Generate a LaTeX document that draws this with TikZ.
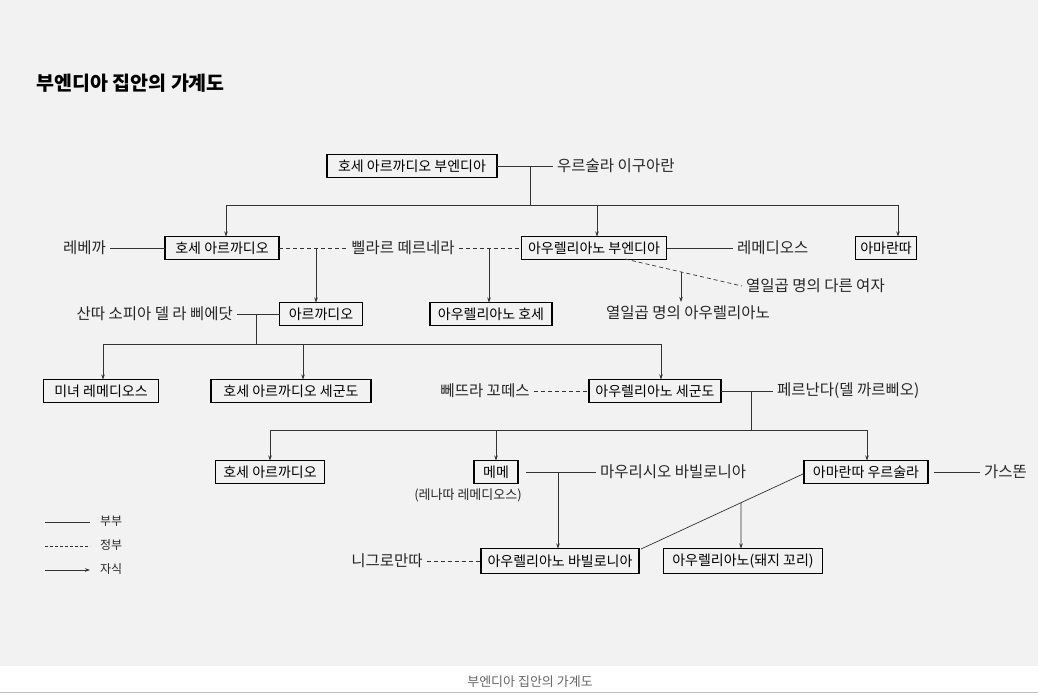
\documentclass[tikz,border=0pt]{standalone}
\usepackage{fontspec}
\setmainfont{Noto Sans CJK KR}
\usetikzlibrary{arrows.meta,calc}
\begin{document}
\begin{tikzpicture}[x=1pt,y=-1pt,
  pbox/.style={draw,line width=1.1pt,inner sep=0pt,outer sep=0pt,minimum height=23pt,font=\fontsize{14}{15}\selectfont},
  lbl/.style={inner sep=0pt,outer sep=4pt,font=\fontsize{15.5}{16}\selectfont,text=black!85},
  ln/.style={line width=0.7pt,black!80},
  dsh/.style={line width=0.7pt,black!80,dash pattern=on 4pt off 3pt},
  arr/.style={line width=0.7pt,black!80,-{Stealth[length=5pt,width=3.5pt]}}]
\useasboundingbox (0,0) rectangle (1038,698);
\fill[black!5] (0,0) rectangle (1038,666);
\fill[white] (0,666) rectangle (1038,698);
\draw[black!25,line width=1pt] (0,692) -- (1038,692);
\node[anchor=west,font=\fontsize{19.5}{20}\selectfont\bfseries] (title) at (33,83) {부엔디아 집안의 가계도};
\node[text=black!60,font=\fontsize{13}{14}\selectfont] (cap) at (530,682) {부엔디아 집안의 가계도};
% generation 1
\node[pbox,minimum width=170pt] (jab) at (412,166) {호세 아르까디오 부엔디아};
\node[lbl,anchor=west] (urs) at (553,166) {우르술라 이구아란};
\draw[ln] (jab.east) -- (urs.west);
\coordinate (j1) at (530,166);
\coordinate (h1) at (530,205);
\draw[ln] (j1) -- (h1);
% generation 2
\node[pbox,minimum width=114pt] (ja) at (222,248) {호세 아르까디오};
\node[pbox,minimum width=145pt] (ab) at (594,248) {아우렐리아노 부엔디아};
\node[pbox,minimum width=61pt] (ama) at (886,248) {아마란따};
\draw[ln] (226,205) -- (898,205);
\draw[arr] (226,205) -- (ja.north -| 226,0);
\draw[arr] (597,205) -- (ab.north -| 597,0);
\draw[arr] (898,205) -- (ama.north -| 898,0);
\node[lbl,anchor=east] (reb) at (110,248) {레베까};
\draw[ln] (reb.east) -- (ja.west);
\node[lbl] (pil) at (403,248) {삘라르 떼르네라};
\draw[dsh] (ja.east) -- (pil.west);
\draw[dsh] (pil.east) -- (ab.west);
\node[lbl,anchor=west] (rem) at (733,248) {레메디오스};
\draw[ln] (ab.east) -- (rem.west);
% generation 3
\node[pbox,minimum width=83pt] (arc) at (321,314) {아르까디오};
\node[pbox,minimum width=122pt] (ajo) at (491,314) {아우렐리아노 호세};
\draw[arr] (316,248) -- (arc.north -| 316,0);
\draw[arr] (489,248) -- (ajo.north -| 489,0);
\node[lbl,anchor=east] (san) at (237,314) {산따 소피아 델 라 삐에닷};
\draw[ln] (san.east) -- (arc.west);
\node[lbl,anchor=west] (oth) at (742,286) {열일곱 명의 다른 여자};
\draw[dsh] (625,259) -- (oth.west);
\node[lbl] (sev) at (688,313) {열일곱 명의 아우렐리아노};
\draw[arr] (681,272) -- (sev.north -| 681,0);
\coordinate (j2) at (256,314);
\draw[ln] (j2) -- (256,344);
\draw[ln] (103,344) -- (661,344);
% generation 4
\node[pbox,minimum width=115pt] (rb) at (101,391) {미녀 레메디오스};
\node[pbox,minimum width=160pt] (jas) at (291,391) {호세 아르까디오 세군도};
\node[pbox,minimum width=132pt] (as) at (655,391) {아우렐리아노 세군도};
\draw[arr] (103,344) -- (rb.north -| 103,0);
\draw[arr] (303,344) -- (jas.north -| 303,0);
\draw[arr] (661,344) -- (as.north -| 661,0);
\node[lbl] (pet) at (485,391) {뻬뜨라 꼬떼스};
\draw[dsh] (pet.east) -- (as.west);
\node[lbl,anchor=west] (fer) at (773,391) {페르난다(델 까르삐오)};
\draw[ln] (as.east) -- (fer.west);
\coordinate (j3) at (751,391);
\draw[ln] (j3) -- (751,430);
\draw[ln] (270,430) -- (867,430);
% generation 5
\node[pbox,minimum width=109pt] (ja2) at (270,472) {호세 아르까디오};
\node[pbox,minimum width=44pt] (meme) at (496,472) {메메};
\node[pbox,minimum width=124pt] (au) at (866,472) {아마란따 우르술라};
\draw[arr] (270,430) -- (ja2.north);
\draw[arr] (496,430) -- (meme.north);
\draw[arr] (867,430) -- (au.north -| 867,0);
\node[lbl,font=\fontsize{13}{14}\selectfont] (ren) at (468,495) {(레나따 레메디오스)};
\node[lbl,anchor=west] (mau) at (596,472) {마우리시오 바빌로니아};
\draw[ln] (meme.east) ++(8,0) -- (mau.west);
\node[lbl,anchor=west] (gas) at (980,472) {가스똔};
\draw[ln] (au.east) ++(6,0) -- (gas.west);
% generation 6
\node[pbox,minimum width=158pt,minimum height=25pt] (abab) at (560,561) {아우렐리아노 바빌로니아};
\node[pbox,minimum width=159pt,minimum height=25pt] (apig) at (743,561) {아우렐리아노(돼지 꼬리)};
\draw[arr] (558,472) -- (abab.north -| 558,0);
\node[lbl] (nig) at (387,561) {니그로만따};
\draw[dsh] (nig.east) -- (abab.west);
\coordinate (dA) at (803,474);
\coordinate (dB) at (641,549);
\draw[ln] (dA) -- (dB);
\draw[arr] ($(dA)!0.383!(dB)$) -- (apig.north -| 741,0);
% legend
\coordinate (l1) at (45,522); \coordinate (l1e) at (90,522);
\coordinate (l2) at (45,546); \coordinate (l2e) at (90,546);
\coordinate (l3) at (45,570); \coordinate (l3e) at (90,570);
\draw[ln] (l1) -- (l1e);
\draw[dsh,dash pattern=on 3pt off 2pt] (l2) -- (l2e);
\draw[arr] (l3) -- (l3e);
\node[lbl,anchor=west,font=\fontsize{12}{13}\selectfont] (g1) at (96,521) {부부};
\node[lbl,anchor=west,font=\fontsize{12}{13}\selectfont] (g2) at (96,545) {정부};
\node[lbl,anchor=west,font=\fontsize{12}{13}\selectfont] (g3) at (96,569) {자식};
\end{tikzpicture}
\end{document}
